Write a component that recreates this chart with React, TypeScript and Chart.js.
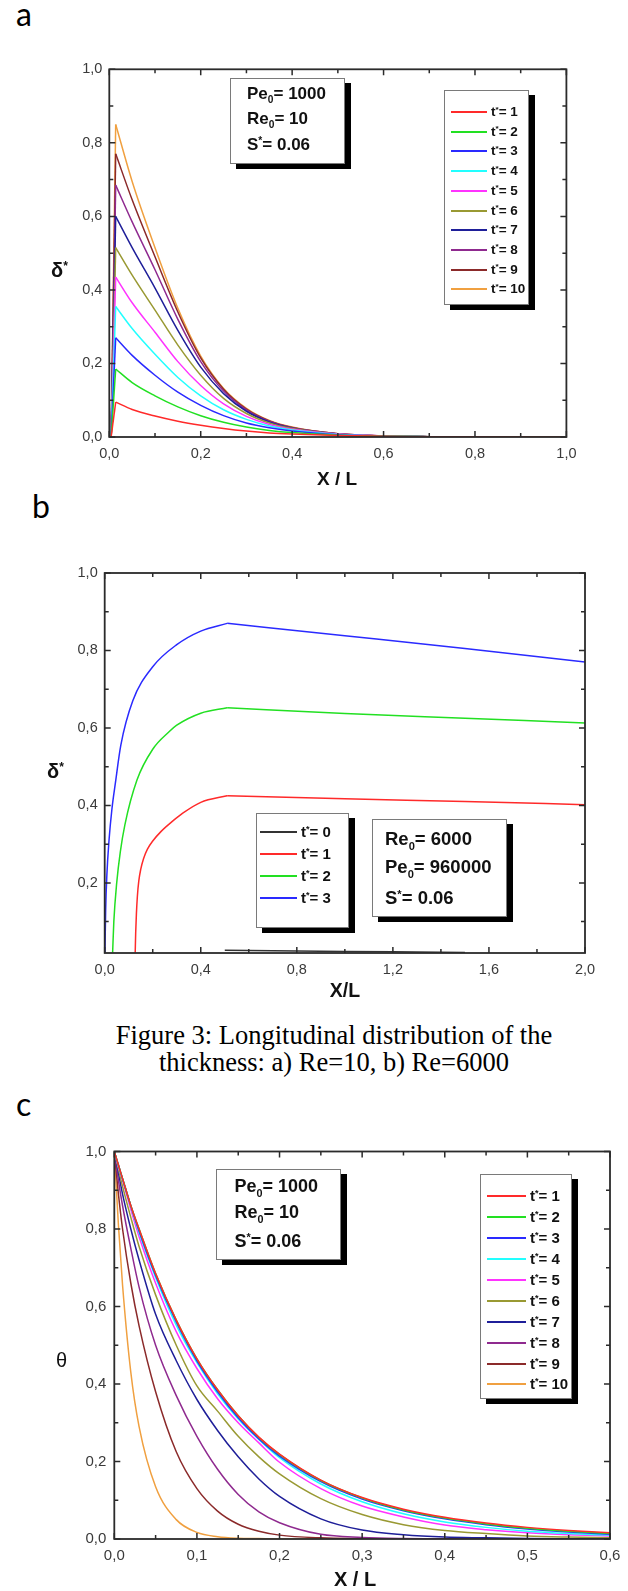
import React, { useEffect, useRef } from "react";
import { Chart, registerables } from "chart.js";
Chart.register(...registerables);

// ---------------- shared series info ----------------
const T_LABELS = ["1", "2", "3", "4", "5", "6", "7", "8", "9", "10"];
const T_COLORS = ["#ff2a2a", "#22e022", "#2a2aff", "#22ffff", "#ff33ff", "#999933", "#1f1f99", "#8f2a8f", "#8b2a2a", "#f0a040"];

// ---------------- panel a : delta* vs X/L (Re=10) ----------------
const A_X_TICKS = [0, 0.2, 0.4, 0.6, 0.8, 1.0];
const A_X_MINOR = [0.1, 0.3, 0.5, 0.7, 0.9];
const A_Y_TICKS = [0, 0.2, 0.4, 0.6, 0.8, 1.0];
const A_Y_MINOR = [0.1, 0.3, 0.5, 0.7, 0.9];
const A_RISE_X = 0.004;
const A_X = [0.014, 0.05, 0.1, 0.15, 0.2, 0.25, 0.3, 0.35, 0.4, 0.5, 0.6, 0.7, 0.8, 1.0];
const A_T1 = [0.095, 0.075, 0.057, 0.043, 0.032, 0.023, 0.016, 0.011, 0.008, 0.004, 0.002, 0.001, 0.0005, 0];
const A_T2 = [0.185, 0.148, 0.112, 0.082, 0.058, 0.04, 0.027, 0.018, 0.012, 0.005, 0.002, 0.001, 0.0005, 0];
const A_T3 = [0.27, 0.222, 0.168, 0.122, 0.086, 0.058, 0.038, 0.025, 0.016, 0.006, 0.002, 0.001, 0.0005, 0];
const A_T4 = [0.355, 0.295, 0.225, 0.162, 0.112, 0.074, 0.048, 0.03, 0.019, 0.007, 0.003, 0.001, 0.0005, 0];
const A_T5 = [0.435, 0.365, 0.285, 0.205, 0.14, 0.09, 0.056, 0.034, 0.021, 0.008, 0.003, 0.001, 0.0005, 0];
const A_T6 = [0.515, 0.44, 0.345, 0.25, 0.168, 0.105, 0.064, 0.038, 0.023, 0.008, 0.003, 0.001, 0.0005, 0];
const A_T7 = [0.6, 0.515, 0.405, 0.29, 0.19, 0.118, 0.07, 0.041, 0.024, 0.008, 0.003, 0.001, 0.0005, 0];
const A_T8 = [0.685, 0.585, 0.455, 0.32, 0.205, 0.125, 0.074, 0.043, 0.025, 0.009, 0.003, 0.001, 0.0005, 0];
const A_T9 = [0.77, 0.645, 0.49, 0.34, 0.215, 0.13, 0.076, 0.044, 0.026, 0.009, 0.003, 0.001, 0.0005, 0];
const A_T10 = [0.85, 0.695, 0.515, 0.35, 0.22, 0.132, 0.078, 0.045, 0.027, 0.009, 0.003, 0.001, 0.0005, 0];
const A_SERIES = [A_T1, A_T2, A_T3, A_T4, A_T5, A_T6, A_T7, A_T8, A_T9, A_T10];

// ---------------- panel b : delta* vs X/L (Re=6000) ----------------
const B_X_TICKS = [0, 0.4, 0.8, 1.2, 1.6, 2.0];
const B_X_MINOR = [0.2, 0.6, 1.0, 1.4, 1.8];
const B_Y_TICKS = [0.2, 0.4, 0.6, 0.8, 1.0];
const B_Y_MINOR = [0.1, 0.3, 0.5, 0.7, 0.9];
const B_Y_MIN = 0.019;
const B_LABELS = ["0", "1", "2", "3"];
const B_COLORS = ["#333333", "#ff2a2a", "#22e022", "#2a2aff"];
const B_T0_X = [0.5, 0.8, 1.2, 1.5];
const B_T0_Y = [0.026, 0.024, 0.022, 0.02];
const B_T1_RISE_X = [0.127, 0.129, 0.132, 0.136, 0.142, 0.15, 0.162, 0.178, 0.2, 0.235, 0.284, 0.325, 0.4, 0.51];
const B_T1_RISE_Y = [0.02, 0.07, 0.12, 0.165, 0.205, 0.235, 0.263, 0.287, 0.308, 0.333, 0.36, 0.38, 0.408, 0.425];
const B_T1_FALL_X = [0.51, 1.0, 1.5, 2.0];
const B_T1_FALL_Y = [0.425, 0.417, 0.41, 0.402];
const B_T2_RISE_X = [0.033, 0.038, 0.05, 0.065, 0.084, 0.134, 0.2, 0.268, 0.3, 0.4, 0.51];
const B_T2_RISE_Y = [0.02, 0.1, 0.2, 0.28, 0.35, 0.465, 0.545, 0.59, 0.607, 0.638, 0.652];
const B_T2_FALL_X = [0.51, 1.0, 1.5, 2.0];
const B_T2_FALL_Y = [0.652, 0.637, 0.625, 0.613];
const B_T3_RISE_X = [0.001, 0.004, 0.009, 0.018, 0.03, 0.045, 0.067, 0.117, 0.2, 0.3, 0.4, 0.51];
const B_T3_RISE_Y = [0.02, 0.13, 0.22, 0.31, 0.39, 0.46, 0.555, 0.67, 0.758, 0.815, 0.85, 0.87];
const B_T3_FALL_X = [0.51, 1.0, 1.5, 2.0];
const B_T3_FALL_Y = [0.87, 0.838, 0.805, 0.77];

// ---------------- panel c : theta vs X/L ----------------
const C_X_TICKS = [0, 0.1, 0.2, 0.3, 0.4, 0.5, 0.6];
const C_X_MINOR = [0.05, 0.15, 0.25, 0.35, 0.45, 0.55];
const C_Y_TICKS = [0, 0.2, 0.4, 0.6, 0.8, 1.0];
const C_Y_MINOR = [0.1, 0.3, 0.5, 0.7, 0.9];
const C_X = [0, 0.005, 0.01, 0.02, 0.03, 0.05, 0.075, 0.1, 0.125, 0.15, 0.175, 0.2, 0.25, 0.3, 0.35, 0.4, 0.45, 0.5, 0.55, 0.6];
const C_T1 = [1, 0.965, 0.93, 0.86, 0.8, 0.685, 0.565, 0.465, 0.385, 0.318, 0.263, 0.219, 0.152, 0.107, 0.077, 0.056, 0.041, 0.03, 0.022, 0.016];
const C_T2 = [1, 0.965, 0.93, 0.86, 0.8, 0.685, 0.565, 0.465, 0.385, 0.318, 0.262, 0.218, 0.151, 0.106, 0.075, 0.054, 0.039, 0.028, 0.02, 0.014];
const C_T3 = [1, 0.965, 0.93, 0.86, 0.795, 0.68, 0.56, 0.46, 0.38, 0.313, 0.258, 0.214, 0.148, 0.103, 0.073, 0.052, 0.037, 0.026, 0.018, 0.012];
const C_T4 = [1, 0.963, 0.928, 0.858, 0.79, 0.675, 0.552, 0.455, 0.375, 0.31, 0.257, 0.21, 0.142, 0.096, 0.065, 0.044, 0.03, 0.02, 0.014, 0.01];
const C_T5 = [1, 0.96, 0.925, 0.85, 0.78, 0.66, 0.535, 0.44, 0.362, 0.3, 0.248, 0.198, 0.13, 0.085, 0.057, 0.036, 0.024, 0.016, 0.011, 0.008];
const C_T6 = [1, 0.955, 0.91, 0.83, 0.755, 0.63, 0.5, 0.395, 0.33, 0.265, 0.212, 0.168, 0.104, 0.063, 0.037, 0.022, 0.014, 0.008, 0.005, 0.003];
const C_T7 = [1, 0.945, 0.89, 0.8, 0.72, 0.58, 0.46, 0.36, 0.28, 0.212, 0.155, 0.11, 0.052, 0.023, 0.011, 0.005, 0.003, 0.001, 0.0005, 0];
const C_T8 = [1, 0.925, 0.86, 0.75, 0.65, 0.5, 0.37, 0.265, 0.18, 0.115, 0.07, 0.042, 0.012, 0.004, 0.001, 0, 0, 0, 0, 0];
const C_T9 = [1, 0.89, 0.8, 0.66, 0.55, 0.38, 0.225, 0.13, 0.072, 0.038, 0.02, 0.01, 0.003, 0.001, 0, 0, 0, 0, 0, 0];
const C_T10 = [1, 0.81, 0.655, 0.43, 0.29, 0.135, 0.05, 0.017, 0.006, 0.002, 0.001, 0, 0, 0, 0, 0, 0, 0, 0, 0];
const C_SERIES = [C_T1, C_T2, C_T3, C_T4, C_T5, C_T6, C_T7, C_T8, C_T9, C_T10];

// annotation texts
const INFO_A = [
  { base: "Pe", sub: "0", value: "1000" },
  { base: "Re", sub: "0", value: "10" },
  { base: "S", sup: "*", value: "0.06" },
];
const INFO_B = [
  { base: "Re", sub: "0", value: "6000" },
  { base: "Pe", sub: "0", value: "960000" },
  { base: "S", sup: "*", value: "0.06" },
];
const INFO_C = INFO_A;
const CAPTION = ["Figure 3: Longitudinal distribution of the", "thickness: a) Re=10, b) Re=6000"];

const fmt = (v: number) => v.toFixed(1).replace(".", ",");
const pts = (xs: number[], ys: number[]) => xs.map((x, i) => ({ x, y: ys[i] }));

function makeFrame(xMajor: number[], xMinor: number[], yMajor: number[], yMinor: number[]) {
  return {
    id: "frame",
    afterDatasetsDraw(chart: any) {
      const { ctx, chartArea: a, scales } = chart;
      const sx = scales.x, sy = scales.y;
      ctx.save();
      ctx.strokeStyle = "#2b2b2b";
      ctx.lineWidth = 1.5;
      ctx.beginPath();
      const seg = (x0: number, y0: number, x1: number, y1: number) => { ctx.moveTo(x0, y0); ctx.lineTo(x1, y1); };
      const xt = (v: number, len: number) => { const p = sx.getPixelForValue(v); seg(p, a.bottom, p, a.bottom - len); seg(p, a.top, p, a.top + len); };
      const yt = (v: number, len: number) => { const p = sy.getPixelForValue(v); seg(a.left, p, a.left + len, p); seg(a.right, p, a.right - len, p); };
      xMajor.forEach((v) => xt(v, 6));
      xMinor.forEach((v) => xt(v, 4));
      yMajor.forEach((v) => yt(v, 6));
      yMinor.forEach((v) => yt(v, 4));
      ctx.stroke();
      ctx.lineWidth = 1.8;
      ctx.strokeRect(a.left, a.top, a.right - a.left, a.bottom - a.top);
      ctx.restore();
    },
  };
}

type Geo = {
  xMin: number; xMax: number; yMin: number; yMax: number;
  xTicks: number[]; xMinor: number[]; yTicks: number[]; yMinor: number[];
  yWidth: number; xHeight: number; padTop: number; padRight: number;
  font: number; padX: number; padY: number;
};

function buildConfig(datasets: any[], g: Geo): any {
  const tickFont = { family: "'Liberation Sans', Arial, sans-serif", size: g.font };
  return {
    type: "line",
    data: { datasets },
    options: {
      responsive: false,
      maintainAspectRatio: false,
      animation: false,
      layout: { padding: { left: 0, top: g.padTop, right: g.padRight, bottom: 0 } },
      plugins: { legend: { display: false }, tooltip: { enabled: false } },
      elements: { point: { radius: 0 } },
      scales: {
        x: {
          type: "linear", min: g.xMin, max: g.xMax,
          afterBuildTicks: (s: any) => { s.ticks = g.xTicks.map((v) => ({ value: v })); },
          afterFit: (s: any) => { s.height = g.xHeight; },
          grid: { display: false, drawTicks: false },
          border: { display: false },
          ticks: { callback: (v: any) => fmt(Number(v)), font: tickFont, color: "#3a3a3a", padding: g.padX, autoSkip: false, maxRotation: 0 },
        },
        y: {
          type: "linear", min: g.yMin, max: g.yMax,
          afterBuildTicks: (s: any) => { s.ticks = g.yTicks.map((v) => ({ value: v })); },
          afterFit: (s: any) => { s.width = g.yWidth; },
          grid: { display: false, drawTicks: false },
          border: { display: false },
          ticks: { callback: (v: any) => fmt(Number(v)), font: tickFont, color: "#3a3a3a", padding: g.padY, autoSkip: false },
        },
      },
    },
    plugins: [makeFrame(g.xTicks, g.xMinor, g.yTicks, g.yMinor)],
  };
}

const line = (data: any[], color: string, smooth: boolean) => ({
  data, borderColor: color, backgroundColor: color, borderWidth: 1.5, pointRadius: 0, fill: false,
  tension: 0, cubicInterpolationMode: smooth ? "monotone" : "default",
});

function datasetsA() {
  const out: any[] = [];
  A_SERIES.forEach((ys, i) => {
    out.push(line([{ x: A_RISE_X, y: 0 }, { x: A_X[0], y: ys[0] }], T_COLORS[i], false));
    out.push(line(pts(A_X, ys), T_COLORS[i], true));
  });
  return out;
}
function datasetsB() {
  return [
    line(pts(B_T0_X, B_T0_Y), B_COLORS[0], true),
    line(pts(B_T1_RISE_X, B_T1_RISE_Y), B_COLORS[1], true),
    line(pts(B_T1_FALL_X, B_T1_FALL_Y), B_COLORS[1], true),
    line(pts(B_T2_RISE_X, B_T2_RISE_Y), B_COLORS[2], true),
    line(pts(B_T2_FALL_X, B_T2_FALL_Y), B_COLORS[2], true),
    line(pts(B_T3_RISE_X, B_T3_RISE_Y), B_COLORS[3], true),
    line(pts(B_T3_FALL_X, B_T3_FALL_Y), B_COLORS[3], true),
  ];
}
function datasetsC() {
  return C_SERIES.map((ys, i) => line(pts(C_X, ys), T_COLORS[i], true));
}

const GEO_A: Geo = { xMin: 0, xMax: 1, yMin: 0, yMax: 1, xTicks: A_X_TICKS, xMinor: A_X_MINOR, yTicks: A_Y_TICKS, yMinor: A_Y_MINOR, yWidth: 109.3, xHeight: 63, padTop: 69.3, padRight: 61.6, font: 14.5, padX: 8, padY: 7 };
const GEO_B: Geo = { xMin: 0, xMax: 2, yMin: B_Y_MIN, yMax: 1, xTicks: B_X_TICKS, xMinor: B_X_MINOR, yTicks: B_Y_TICKS, yMinor: B_Y_MINOR, yWidth: 104.7, xHeight: 47, padTop: 33, padRight: 43, font: 14.5, padX: 8, padY: 7 };
const GEO_C: Geo = { xMin: 0, xMax: 0.6, yMin: 0, yMax: 1, xTicks: C_X_TICKS, xMinor: C_X_MINOR, yTicks: C_Y_TICKS, yMinor: C_Y_MINOR, yWidth: 114.3, xHeight: 52, padTop: 31.5, padRight: 30, font: 15, padX: 8, padY: 8 };

function ChartCanvas({ make, width, height }: { make: () => any; width: number; height: number }) {
  const ref = useRef<HTMLCanvasElement>(null);
  useEffect(() => {
    const chart = new Chart(ref.current as HTMLCanvasElement, make());
    return () => chart.destroy();
  }, []);
  return <canvas ref={ref} width={width} height={height} style={{ display: "block", width, height }} />;
}

const SANS = "'Liberation Sans', Arial, sans-serif";

function Sub({ children }: any) {
  return <span style={{ fontSize: "0.6em", position: "relative", top: "0.42em", lineHeight: 0 }}>{children}</span>;
}
function Sup({ children }: any) {
  return <span style={{ fontSize: "0.6em", position: "relative", top: "-0.55em", lineHeight: 0 }}>{children}</span>;
}

function txt(size: number, bold: boolean, L: number, family = SANS): any {
  return { fontFamily: family, fontSize: size, fontWeight: bold ? 700 : 400, lineHeight: L + "px", whiteSpace: "nowrap", color: "#111" };
}

function InfoBox({ left, top, width, height, rows, rowY, textX, font }: any) {
  const L = Math.round(font * 1.2);
  return (
    <div style={{ position: "absolute", left, top, width, height, boxSizing: "border-box", border: "1px solid #7a7a7a", background: "#fff", boxShadow: "6px 5px 0 #000" }}>
      {rows.map((r: any, i: number) => (
        <div key={i} style={{ position: "absolute", left: textX, top: rowY[i] - L / 2, ...txt(font, true, L) }}>
          {r.base}
          {r.sub ? <Sub>{r.sub}</Sub> : null}
          {r.sup ? <Sup>{r.sup}</Sup> : null}= {r.value}
        </div>
      ))}
    </div>
  );
}

function LegendBox({ left, top, width, height, labels, colors, y0, dy, lx0, lx1, tx, font }: any) {
  const L = Math.round(font * 1.2);
  return (
    <div style={{ position: "absolute", left, top, width, height, boxSizing: "border-box", border: "1px solid #7a7a7a", background: "#fff", boxShadow: "6px 5px 0 #000" }}>
      {labels.map((lab: string, i: number) => {
        const cy = y0 + i * dy;
        return (
          <React.Fragment key={i}>
            <div style={{ position: "absolute", left: lx0, top: cy - 1, width: lx1 - lx0, height: 0, borderTop: `2px solid ${colors[i]}` }} />
            <div style={{ position: "absolute", left: tx, top: cy - L / 2, ...txt(font, true, L) }}>
              t<Sup>*</Sup>= {lab}
            </div>
          </React.Fragment>
        );
      })}
    </div>
  );
}

function Label({ cx, cy, left, size, bold, children, w = 200 }: any) {
  const L = 40;
  const style: any = { position: "absolute", top: cy - L / 2, ...txt(size, bold, L) };
  if (cx !== undefined) { style.left = cx - w / 2; style.width = w; style.textAlign = "center"; }
  else style.left = left;
  return <div style={style}>{children}</div>;
}

export default function App() {
  useEffect(() => {
    document.body.style.margin = "0";
  }, []);
  const letter: any = { position: "absolute", fontFamily: "Lato, 'Open Sans', sans-serif", fontSize: 32, lineHeight: "32px", color: "#000" };
  return (
    <div style={{ position: "relative", width: 628, height: 1591, background: "#fff", overflow: "hidden" }}>
      {/* panel letters */}
      <div style={{ ...letter, left: 16, top: -1.7 }}>a</div>
      <div style={{ ...letter, left: 32, top: 489.6 }}>b</div>
      <div style={{ ...letter, left: 16, top: 1088.3 }}>c</div>

      {/* panel a */}
      <div style={{ position: "absolute", left: 0, top: 0 }}>
        <ChartCanvas make={() => buildConfig(datasetsA(), GEO_A)} width={628} height={500} />
      </div>
      <Label left={51} cy={270} size={20} bold>δ<Sup>*</Sup></Label>
      <Label cx={337} cy={479} size={19} bold>X / L</Label>
      <InfoBox left={230} top={78} width={115} height={86} rows={INFO_A} rowY={[15, 40, 66]} textX={16} font={17} />
      <LegendBox left={444} top={90} width={85} height={215} labels={T_LABELS} colors={T_COLORS} y0={21} dy={19.7} lx0={6} lx1={42} tx={46} font={13.5} />

      {/* panel b */}
      <div style={{ position: "absolute", left: 0, top: 540 }}>
        <ChartCanvas make={() => buildConfig(datasetsB(), GEO_B)} width={628} height={460} />
      </div>
      <Label left={47} cy={771} size={20} bold>δ<Sup>*</Sup></Label>
      <Label cx={345} cy={990} size={19.5} bold>X/L</Label>
      <LegendBox left={256} top={813} width={93} height={115} labels={B_LABELS} colors={B_COLORS} y0={18} dy={22} lx0={3} lx1={40} tx={44} font={15} />
      <InfoBox left={372} top={819} width={135} height={98} rows={INFO_B} rowY={[19, 47, 77.7]} textX={12} font={18.5} />

      {/* caption */}
      <div style={{ position: "absolute", left: 34, width: 600, top: 1022, textAlign: "center", fontFamily: "'Liberation Serif', 'Times New Roman', serif", fontSize: 26.5, lineHeight: "27px", color: "#000" }}>
        {CAPTION[0]}
        <br />
        {CAPTION[1]}
      </div>

      {/* panel c */}
      <div style={{ position: "absolute", left: 0, top: 1120, width: 620, height: 471, overflow: "hidden" }}>
        <ChartCanvas make={() => buildConfig(datasetsC(), GEO_C)} width={640} height={471} />
      </div>
      <Label left={56} cy={1360} size={20} bold={false}>θ</Label>
      <Label cx={355} cy={1579} size={20} bold>X / L</Label>
      <InfoBox left={216} top={1169} width={125} height={91} rows={INFO_C} rowY={[16, 42, 70.6]} textX={17.5} font={18} />
      <LegendBox left={480} top={1174} width={92} height={225} labels={T_LABELS} colors={T_COLORS} y0={21.3} dy={20.9} lx0={6} lx1={45} tx={49} font={15} />
    </div>
  );
}
